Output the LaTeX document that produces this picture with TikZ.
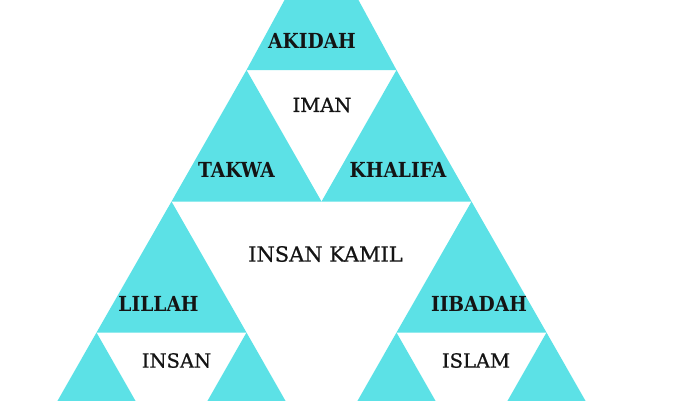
\documentclass[tikz,border=0pt]{standalone}
\usepackage{fontspec}
\newfontfamily\slab{DejaVu Serif Condensed}
\newfontfamily\slabw{DejaVu Serif}[FakeBold=0.8]
\definecolor{tq}{HTML}{5CE1E6}
\definecolor{ink}{HTML}{141414}
\begin{document}
\begin{tikzpicture}[x=1bp,y=-1bp,
  tri/.style={fill=tq},
  blab/.style={font=\slab\bfseries\fontsize{20.8}{24}\selectfont, text=ink, inner sep=0pt},
  wlab/.style={font=\slabw\fontsize{21}{24}\selectfont, text=ink, inner sep=0pt},
  slab/.style={font=\slabw\fontsize{19.6}{24}\selectfont, text=ink, inner sep=0pt}]
\useasboundingbox (0,0) rectangle (700,400);
\fill[white] (0,0) rectangle (700,400);
\clip (0,0) rectangle (700,400);
% top triangle
\fill[tri] (321.5,-68) -- (246.5,70) -- (396.5,70) -- cycle;
% row 2
\foreach \cx in {246.5,396.5}
  \fill[tri] (\cx,70) -- (\cx-75,201.5) -- (\cx+75,201.5) -- cycle;
% row 3
\foreach \cx in {171.5,471.5}
  \fill[tri] (\cx,201.5) -- (\cx-75,332.5) -- (\cx+75,332.5) -- cycle;
% row 4
\foreach \cx in {96.5,246.5,396.5,546.5}
  \fill[tri] (\cx,332.5) -- (\cx-75,464) -- (\cx+75,464) -- cycle;
% labels
\node[blab] (akidah) at (312,40.5) {AKIDAH};
\node[slab] (iman) at (322,105) {IMAN};
\node[blab] (takwa) at (236.5,169.5) {TAKWA};
\node[blab] (khalifa) at (398,169.5) {KHALIFA};
\node[wlab] (kamil) at (325.5,254) {INSAN KAMIL};
\node[blab] (lillah) at (158.5,303.5) {LILLAH};
\node[blab] (ibadah) at (479,303.5) {IIBADAH};
\node[slab] (insan) at (176.5,360.5) {INSAN};
\node[slab] (islam) at (476,360.5) {ISLAM};
\end{tikzpicture}
\end{document}
